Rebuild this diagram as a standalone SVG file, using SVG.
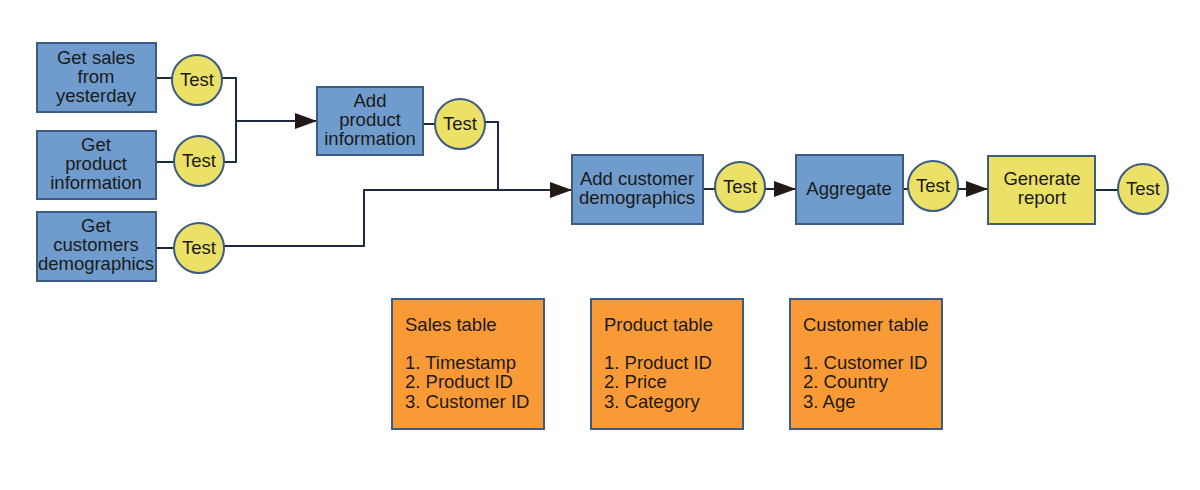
<svg xmlns="http://www.w3.org/2000/svg" width="1200" height="490" viewBox="0 0 1200 490">
<style>
text{font-family:"Liberation Sans",Arial,sans-serif;font-size:18.5px;fill:#1a1a1a}
.c{text-anchor:middle}
.blue{fill:#6f9ccc;stroke:#3c5b85;stroke-width:2}
.yel{fill:#ece167;stroke:#3c5b85;stroke-width:2}
.org{fill:#fa9a36;stroke:#3c5b85;stroke-width:2}
.ln{fill:none;stroke:#1c2a40;stroke-width:2}
</style>
<defs>
<marker id="ah" markerWidth="22" markerHeight="16" refX="22" refY="8" orient="auto" markerUnits="userSpaceOnUse">
<path d="M0,0 L22,8 L0,16 Z" fill="#231815"/>
</marker>
</defs>
<rect width="1200" height="490" fill="#fff"/>
<g id="connectors">
<path class="ln" d="M156,78 H172"/>
<path class="ln" d="M222,78 H236 V162 H224"/>
<path class="ln" d="M156,162 H174"/>
<path class="ln" d="M236,121 H317" marker-end="url(#ah)"/>
<path class="ln" d="M156,248 H174"/>
<path class="ln" d="M224,246 H364 V190 H572" marker-end="url(#ah)"/>
<path class="ln" d="M423,124 H435"/>
<path class="ln" d="M485,122 H498 V190"/>
<path class="ln" d="M703,189 H715"/>
<path class="ln" d="M765,189 H796" marker-end="url(#ah)"/>
<path class="ln" d="M903,189 H908"/>
<path class="ln" d="M958,189 H988" marker-end="url(#ah)"/>
<path class="ln" d="M1095,190 H1118"/>
</g>
<g id="n-sales">
<rect class="blue" x="37" y="43" width="119" height="69"/>
<text class="c" x="96" y="64">Get sales</text>
<text class="c" x="96" y="83">from</text>
<text class="c" x="96" y="102">yesterday</text>
</g>
<g id="n-product">
<rect class="blue" x="37" y="131" width="119" height="68"/>
<text class="c" x="96" y="151">Get</text>
<text class="c" x="96" y="170">product</text>
<text class="c" x="96" y="189">information</text>
</g>
<g id="n-customers">
<rect class="blue" x="37" y="212" width="119" height="69"/>
<text class="c" x="96" y="232">Get</text>
<text class="c" x="96" y="251">customers</text>
<text class="c" x="96" y="270">demographics</text>
</g>
<g id="t1"><circle class="yel" cx="197" cy="80" r="25"/><text class="c" x="197" y="86">Test</text></g>
<g id="t2"><circle class="yel" cx="199" cy="161" r="25"/><text class="c" x="199" y="167">Test</text></g>
<g id="t3"><circle class="yel" cx="199" cy="248" r="25"/><text class="c" x="199" y="254">Test</text></g>
<g id="n-addproduct">
<rect class="blue" x="317" y="87" width="106" height="68"/>
<text class="c" x="370" y="107">Add</text>
<text class="c" x="370" y="126">product</text>
<text class="c" x="370" y="145">information</text>
</g>
<g id="t4"><circle class="yel" cx="460" cy="124" r="25"/><text class="c" x="460" y="130">Test</text></g>
<g id="n-addcustomer">
<rect class="blue" x="572" y="155" width="131" height="69"/>
<text class="c" x="637" y="185">Add customer</text>
<text class="c" x="637" y="204">demographics</text>
</g>
<g id="t5"><circle class="yel" cx="740" cy="187" r="25"/><text class="c" x="740" y="193">Test</text></g>
<g id="n-aggregate">
<rect class="blue" x="796" y="155" width="107" height="69"/>
<text class="c" x="849" y="195">Aggregate</text>
</g>
<g id="t6"><circle class="yel" cx="933" cy="186" r="25"/><text class="c" x="933" y="192">Test</text></g>
<g id="n-report">
<rect class="yel" x="988" y="156" width="107" height="68"/>
<text class="c" x="1042" y="185">Generate</text>
<text class="c" x="1042" y="204">report</text>
</g>
<g id="t7"><circle class="yel" cx="1143" cy="189" r="25"/><text class="c" x="1143" y="195">Test</text></g>
<g id="tbl-sales">
<rect class="org" x="392" y="299" width="152" height="130"/>
<text x="405" y="331">Sales table</text>
<text x="405" y="369">1. Timestamp</text>
<text x="405" y="388">2. Product ID</text>
<text x="405" y="408">3. Customer ID</text>
</g>
<g id="tbl-product">
<rect class="org" x="591" y="299" width="152" height="130"/>
<text x="604" y="331">Product table</text>
<text x="604" y="369">1. Product ID</text>
<text x="604" y="388">2. Price</text>
<text x="604" y="408">3. Category</text>
</g>
<g id="tbl-customer">
<rect class="org" x="790" y="299" width="152" height="130"/>
<text x="803" y="331">Customer table</text>
<text x="803" y="369">1. Customer ID</text>
<text x="803" y="388">2. Country</text>
<text x="803" y="408">3. Age</text>
</g>
</svg>
